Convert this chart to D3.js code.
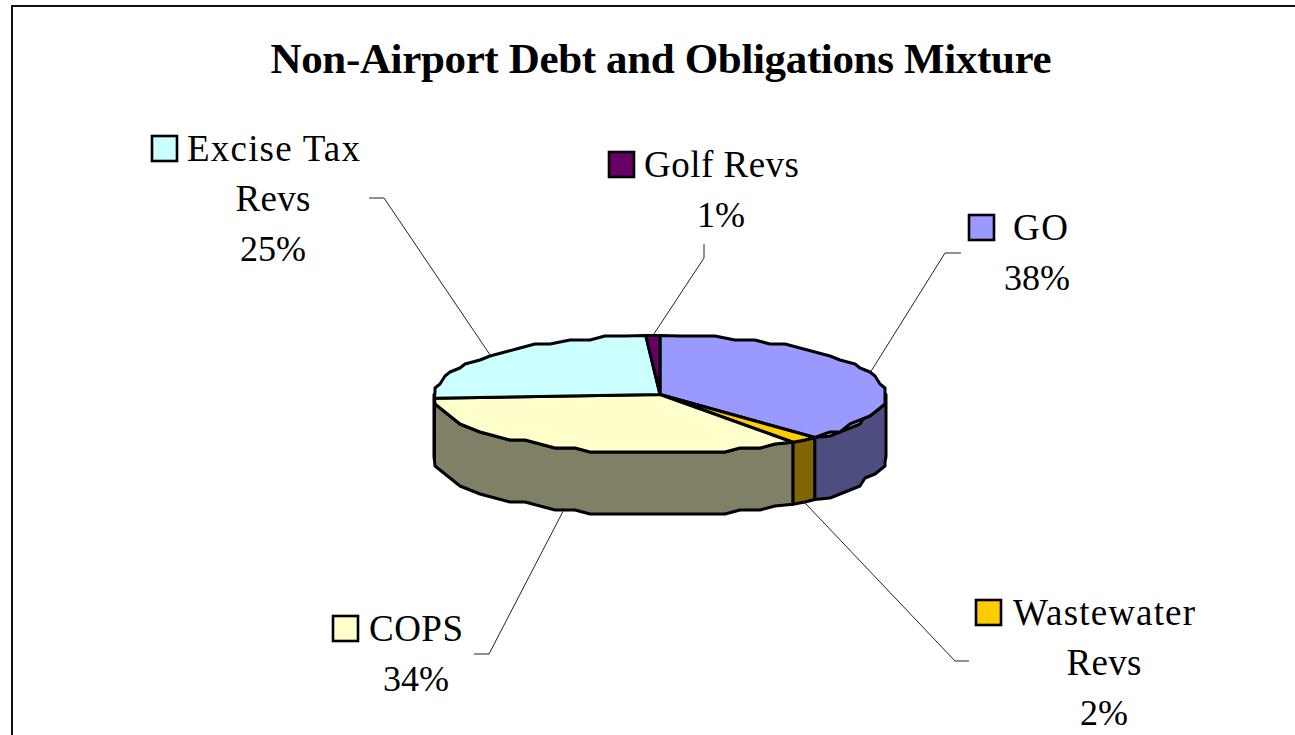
<!DOCTYPE html>
<html>
<head>
<meta charset="utf-8">
<script src="https://cdn.jsdelivr.net/npm/d3@7"></script>
<style>
  html, body { margin: 0; padding: 0; background: #fff; overflow: hidden; }
  svg { display: block; }
  text { font-family: "Liberation Serif", "Times New Roman", serif; fill: #000; }
</style>
</head>
<body>
<svg id="chart" width="1295" height="735"></svg>
<script>
// Debt mixture values, in percent
const categories = ["GO", "Wastewater Revs", "COPS", "Excise Tax Revs", "Golf Revs"];
const shares = [38, 2, 34, 25, 1];
const topColors = ["#9999ff", "#ffcc00", "#ffffcc", "#ccffff", "#660066"];
const sideColors = ["#4d4d80", "#806600", "#808066", "#668080", "#330033"];
const chartTitle = "Non-Airport Debt and Obligations Mixture";

// Label block placement: first line's swatch and text, then centred lines
const labelLayout = [
  { lines: ["GO", "38%"], widths: [55, null], swatchX: 968, textX: 1013, centreX: 1037, y: 240, elbow: [945, 253, 961, 253], rim: "top" },
  { lines: ["Wastewater", "Revs", "2%"], widths: [182, 75, null], swatchX: 975, textX: 1013, centreX: 1104, y: 625, elbow: [955, 661, 969, 661], rim: "bottom" },
  { lines: ["COPS", "34%"], widths: [94, null], swatchX: 332, textX: 369, centreX: 416, y: 641, elbow: [489, 654, 474, 654], rim: "bottom" },
  { lines: ["Excise Tax", "Revs", "25%"], widths: [173, 75, null], swatchX: 151, textX: 187, centreX: 273, y: 161, elbow: [384, 198, 369, 198], rim: "top" },
  { lines: ["Golf Revs", "1%"], widths: [155, null], swatchX: 608, textX: 644, centreX: 721, y: 177, elbow: [704, 258, 704, 244], rim: "top" }
];

const cx = 660, cy = 394.5, rx = 226, ry = 59, depth = 62;
const lineStep = 50;
const swatchSize = 25;

const svg = d3.select("#chart");

// Chart frame
svg.append("rect").attr("x", 12).attr("y", 6).attr("width", 1400).attr("height", 900)
  .attr("fill", "#fff").attr("stroke", "#111").attr("stroke-width", 2);

svg.append("text").attr("x", 661).attr("y", 73).attr("text-anchor", "middle")
  .attr("font-size", 43).attr("font-weight", "bold")
  .attr("textLength", 781).attr("lengthAdjust", "spacing")
  .text(chartTitle);

// Slice angles run clockwise from twelve o'clock
const pie = d3.pie().sort(null).value(d => d);
const slices = pie(shares);

// Rim outlines are stepped to a coarse grid, giving the polygonal plotter edge
const gridX = 5, gridY = 4;
const px = a => cx + rx * Math.sin(a);
const py = a => cy - ry * Math.cos(a);
const snap = (v, g) => Math.round(v / g) * g;
function rimPoints(a0, a1, dy) {
  const n = Math.max(1, Math.ceil((a1 - a0) / (Math.PI / 36)));
  const scale = d3.scaleLinear().domain([0, n]).range([a0, a1]);
  return d3.range(n + 1).map(i => {
    const a = scale(i);
    if (i === 0 || i === n) return [px(a), py(a) + dy];
    return [snap(px(a), gridX), snap(py(a), gridY) + dy];
  });
}
const line = d3.line();

// Side wall: only the part of each slice facing the viewer
const wallGroup = svg.append("g");
slices.forEach((s, i) => {
  const a0 = Math.max(s.startAngle, Math.PI / 2);
  const a1 = Math.min(s.endAngle, Math.PI * 1.5);
  if (a1 <= a0) return;
  const pts = rimPoints(a0, a1, 0);
  const lower = rimPoints(a0, a1, depth).reverse();
  wallGroup.append("path")
    .attr("d", line(pts.concat(lower)) + "Z")
    .attr("fill", sideColors[i]).attr("stroke", "#000")
    .attr("stroke-width", 3).attr("stroke-linejoin", "round");
});

// Top face
const topGroup = svg.append("g");
slices.forEach((s, i) => {
  const pts = [[cx, cy]].concat(rimPoints(s.startAngle, s.endAngle, 0));
  topGroup.append("path")
    .attr("d", line(pts) + "Z")
    .attr("fill", topColors[i]).attr("stroke", "#000")
    .attr("stroke-width", 3).attr("stroke-linejoin", "round");
});

// Leader lines from each slice's mid-angle to the elbow beside its label
const leaders = svg.append("g").attr("fill", "none").attr("stroke", "#222").attr("stroke-width", 1);
slices.forEach((s, i) => {
  const l = labelLayout[i];
  const mid = (s.startAngle + s.endAngle) / 2;
  const start = [px(mid), py(mid) + (l.rim === "bottom" ? depth : 0)];
  const [ex, ey, fx, fy] = l.elbow;
  leaders.append("path").attr("d", line([start, [ex, ey], [fx, fy]]));
});

// Labels with their legend swatches
const labels = svg.append("g").attr("font-size", 37);
labelLayout.forEach((l, i) => {
  labels.append("rect")
    .attr("x", l.swatchX + 1).attr("y", l.y - 25)
    .attr("width", swatchSize).attr("height", swatchSize)
    .attr("fill", topColors[i]).attr("stroke", "#000").attr("stroke-width", 2.6);
  l.lines.forEach((t, j) => {
    const first = j === 0;
    const row = labels.append("text")
      .attr("x", first ? l.textX : l.centreX)
      .attr("y", l.y + j * lineStep)
      .attr("text-anchor", first ? "start" : "middle")
      .text(t);
    if (l.widths[j]) row.attr("textLength", l.widths[j]).attr("lengthAdjust", "spacing");
    else row.attr("font-size", 36);
  });
});
</script>
</body>
</html>
